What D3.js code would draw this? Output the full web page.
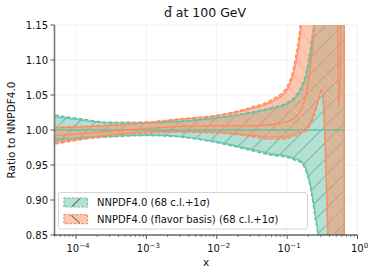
<!DOCTYPE html>
<html>
<head>
<meta charset="utf-8">
<script src="https://cdn.jsdelivr.net/npm/d3@7"></script>
<style>
  body { margin: 0; background: #fff; }
  svg { display: block; font-family: 'DejaVu Sans', sans-serif; }
</style>
</head>
<body>
<svg id="chart" width="374" height="276"></svg>
<script>
// x grid of the PDF ratios
const xValues = [5e-5, 1e-4, 3e-4, 1e-3, 3e-3, 1e-2, 3e-2, 0.06, 0.1, 0.13, 0.16, 0.19, 0.22,
  0.25, 0.28, 0.31, 0.34, 0.37, 0.4, 0.45, 0.5, 0.54, 0.57, 0.6, 0.65];

// NNPDF4.0 (reference, ratio 1)
const baseCentral = [1, 1, 1, 1, 1, 1, 1, 1, 1, 1, 1, 1, 1, 1, 1, 1, 1, 1, 1, 1, 1, 1, 1, 1, 1];
const baseClHi = [1.019, 1.015, 1.010, 1.010, 1.012, 1.017, 1.024, 1.030, 1.037, 1.045, 1.058, 1.080, 1.115,
  1.160, 1.240, 1.300, 1.450, 1.550, 1.650, 1.750, 1.850, 1.900, 1.950, 2.0, 2.0];
const baseClLo = [0.987, 0.989, 0.991, 0.993, 0.991, 0.983, 0.973, 0.966, 0.963, 0.959, 0.955, 0.942, 0.916,
  0.880, 0.845, 0.760, 0.710, 0.660, 0.610, 0.560, 0.510, 0.460, 0.420, 0.40, 0.40];
const baseSigHi = [1.021, 1.017, 1.011, 1.011, 1.013, 1.018, 1.025, 1.032, 1.039, 1.048, 1.062, 1.085, 1.125,
  1.170, 1.250, 1.350, 1.500, 1.600, 1.700, 1.800, 1.900, 2.0, 2.0, 2.0, 2.0];
const baseSigLo = [0.985, 0.987, 0.990, 0.992, 0.990, 0.982, 0.971, 0.964, 0.961, 0.957, 0.953, 0.938, 0.912,
  0.875, 0.840, 0.750, 0.700, 0.650, 0.600, 0.550, 0.500, 0.450, 0.400, 0.40, 0.40];

// NNPDF4.0 (flavor basis)
const flavCentral = [0.992, 0.994, 0.998, 1.002, 1.005, 1.006, 1.006, 1.008, 1.012, 1.018, 1.030, 1.055, 1.100,
  1.170, 1.300, 1.600, 2.0, 2.0, 2.0, 2.0, 1.400, 1.030, 1.080, 1.500, 2.0];
const flavClHi = [1.003, 1.004, 1.006, 1.010, 1.015, 1.020, 1.030, 1.040, 1.057, 1.090, 1.150, 1.250, 1.400,
  1.550, 1.750, 1.900, 2.0, 2.0, 2.0, 2.0, 2.0, 2.0, 2.0, 2.0, 2.0];
const flavClLo = [0.982, 0.987, 0.993, 0.997, 0.998, 0.997, 0.993, 0.990, 0.991, 0.995, 0.999, 1.004, 1.014,
  1.028, 1.045, 1.055, 1.000, 0.890, 0.770, 0.600, 0.500, 0.450, 0.400, 0.40, 0.40];
const flavSigHi = [1.004, 1.005, 1.007, 1.011, 1.016, 1.021, 1.032, 1.043, 1.062, 1.100, 1.170, 1.300, 1.450,
  1.600, 1.800, 2.0, 2.0, 2.0, 2.0, 2.0, 2.0, 2.0, 2.0, 2.0, 2.0];
const flavSigLo = [0.980, 0.985, 0.992, 0.996, 0.997, 0.996, 0.991, 0.987, 0.988, 0.992, 0.996, 1.000, 1.010,
  1.025, 1.042, 1.060, 1.010, 0.880, 0.780, 0.600, 0.500, 0.450, 0.400, 0.40, 0.40];

const legendLabels = ['NNPDF4.0 (68 c.l.+1σ)', 'NNPDF4.0 (flavor basis) (68 c.l.+1σ)'];
const yTicks = [0.85, 0.90, 0.95, 1.00, 1.05, 1.10, 1.15];
const xTickExponents = [-4, -3, -2, -1, 0];

const teal = '#66c2a5';
const orange = '#fc8d62';

const plot = { left: 54.5, right: 357.5, top: 25, bottom: 235 };
const svg = d3.select('#chart');

const x = d3.scaleLog().domain([4.95e-5, 1]).range([plot.left, plot.right]);
const y = d3.scaleLinear().domain([0.85, 1.15]).range([plot.bottom, plot.top]);

const makeRows = (central, clLo, clHi, sigLo, sigHi) => xValues.map((xv, i) => ({
  x: xv, c: central[i], clLo: clLo[i], clHi: clHi[i], sLo: sigLo[i], sHi: sigHi[i]
}));

const series = [
  { name: legendLabels[0], color: teal, hatch: 'hatchTeal', rows: makeRows(baseCentral, baseClLo, baseClHi, baseSigLo, baseSigHi) },
  { name: legendLabels[1], color: orange, hatch: 'hatchOrange', rows: makeRows(flavCentral, flavClLo, flavClHi, flavSigLo, flavSigHi) }
];

// --- defs: clip + hatches
const defs = svg.append('defs');
defs.append('clipPath').attr('id', 'clip')
  .append('rect')
  .attr('x', plot.left).attr('y', plot.top)
  .attr('width', plot.right - plot.left).attr('height', plot.bottom - plot.top);

const hatchTeal = defs.append('pattern')
  .attr('id', 'hatchTeal')
  .attr('patternUnits', 'userSpaceOnUse')
  .attr('width', 11.8).attr('height', 11.8)
  .attr('patternTransform', 'rotate(45)');
hatchTeal.append('line')
  .attr('x1', 0).attr('y1', 0).attr('x2', 0).attr('y2', 11.8)
  .attr('stroke', '#5b8f80').attr('stroke-width', 1.4);

const hatchOrange = defs.append('pattern')
  .attr('id', 'hatchOrange')
  .attr('patternUnits', 'userSpaceOnUse')
  .attr('width', 11.8).attr('height', 11.8)
  .attr('patternTransform', 'rotate(-45)');
hatchOrange.append('line')
  .attr('x1', 0).attr('y1', 0).attr('x2', 0).attr('y2', 11.8)
  .attr('stroke', '#f59470').attr('stroke-width', 2.4);
hatchOrange.append('line')
  .attr('x1', 0).attr('y1', 0).attr('x2', 0).attr('y2', 11.8)
  .attr('stroke', '#ffe3d6').attr('stroke-width', 0.8);

// --- grid
const grid = svg.append('g').attr('class', 'grid');
grid.selectAll('line.gx')
  .data(xTickExponents)
  .join('line')
  .attr('x1', (e) => x(Math.pow(10, e))).attr('x2', (e) => x(Math.pow(10, e)))
  .attr('y1', plot.top).attr('y2', plot.bottom)
  .attr('stroke', '#ededed').attr('stroke-width', 0.8);
grid.selectAll('line.gy')
  .data(yTicks)
  .join('line')
  .attr('x1', plot.left).attr('x2', plot.right)
  .attr('y1', (d) => y(d)).attr('y2', (d) => y(d))
  .attr('stroke', '#ededed').attr('stroke-width', 0.8);

// --- bands and lines
const plotArea = svg.append('g').attr('clip-path', 'url(#clip)');

const bandArea = d3.area()
  .x((d) => x(d.x))
  .y0((d) => y(d.sLo))
  .y1((d) => y(d.sHi))
  .curve(d3.curveMonotoneX);

const lineOf = (key) => d3.line()
  .x((d) => x(d.x))
  .y((d) => y(d[key]))
  .curve(d3.curveMonotoneX);

series.forEach((s) => {
  plotArea.append('path')
    .attr('d', bandArea(s.rows))
    .attr('fill', s.color).attr('fill-opacity', 0.5);
  plotArea.append('path')
    .attr('d', bandArea(s.rows))
    .attr('fill', `url(#${s.hatch})`).attr('opacity', 0.8);
});

series.forEach((s) => {
  ['clLo', 'clHi'].forEach((k) => {
    plotArea.append('path')
      .attr('d', lineOf(k)(s.rows))
      .attr('fill', 'none').attr('stroke', s.color).attr('stroke-width', 1.1);
  });
  // right edge of the band
  const last = s.rows[s.rows.length - 1];
  plotArea.append('line')
    .attr('x1', x(last.x)).attr('x2', x(last.x))
    .attr('y1', y(last.sLo)).attr('y2', y(last.sHi))
    .attr('stroke', s.color).attr('stroke-width', 1.2);
  ['sLo', 'sHi'].forEach((k) => {
    plotArea.append('path')
      .attr('d', lineOf(k)(s.rows))
      .attr('fill', 'none').attr('stroke', s.color)
      .attr('stroke-width', 1.5).attr('stroke-dasharray', '4,2');
  });
  plotArea.append('path')
    .attr('d', lineOf('c')(s.rows))
    .attr('fill', 'none').attr('stroke', s.color).attr('stroke-width', 1.5);
});

// --- axes
const axes = svg.append('g').attr('class', 'axes');
axes.append('line')
  .attr('x1', plot.left).attr('x2', plot.left)
  .attr('y1', plot.top).attr('y2', plot.bottom)
  .attr('stroke', '#7a7a7a').attr('stroke-width', 1.6);
axes.append('line')
  .attr('x1', plot.left - 0.8).attr('x2', plot.right)
  .attr('y1', plot.bottom).attr('y2', plot.bottom)
  .attr('stroke', '#222').attr('stroke-width', 1.2);

axes.selectAll('line.ytick')
  .data(yTicks)
  .join('line')
  .attr('x1', plot.left - 4).attr('x2', plot.left)
  .attr('y1', (d) => y(d)).attr('y2', (d) => y(d))
  .attr('stroke', '#444').attr('stroke-width', 0.9);
axes.selectAll('text.ytick')
  .data(yTicks)
  .join('text')
  .attr('x', plot.left - 6.5)
  .attr('y', (d) => y(d) + 3.6)
  .attr('text-anchor', 'end')
  .attr('font-size', 10)
  .attr('fill', '#111')
  .text((d) => d3.format('.2f')(d));

const minorTicks = [];
[-5, -4, -3, -2, -1].forEach((e) => {
  for (let k = 2; k <= 9; k++) {
    const v = k * Math.pow(10, e);
    if (v >= x.domain()[0] && v <= 1) minorTicks.push(v);
  }
});
axes.selectAll('line.xminor')
  .data(minorTicks)
  .join('line')
  .attr('x1', (d) => x(d)).attr('x2', (d) => x(d))
  .attr('y1', plot.bottom).attr('y2', plot.bottom + 2.2)
  .attr('stroke', '#444').attr('stroke-width', 0.6);
axes.selectAll('line.xmajor')
  .data(xTickExponents)
  .join('line')
  .attr('x1', (e) => x(Math.pow(10, e))).attr('x2', (e) => x(Math.pow(10, e)))
  .attr('y1', plot.bottom).attr('y2', plot.bottom + 4)
  .attr('stroke', '#444').attr('stroke-width', 0.9);

const xLabels = axes.selectAll('text.xtick')
  .data(xTickExponents)
  .join('text')
  .attr('x', (e) => x(Math.pow(10, e)) + 2)
  .attr('y', 252)
  .attr('text-anchor', 'middle')
  .attr('font-size', 10)
  .attr('fill', '#111');
xLabels.append('tspan').text('10');
xLabels.append('tspan')
  .attr('dy', -4.5).attr('font-size', 7)
  .text((e) => (e < 0 ? '\u2212' + Math.abs(e) : String(e)));

svg.append('text')
  .attr('x', (plot.left + plot.right) / 2).attr('y', 266)
  .attr('text-anchor', 'middle').attr('font-size', 10.5).attr('fill', '#111')
  .text('x');

svg.append('text')
  .attr('transform', `translate(15,${(plot.top + plot.bottom) / 2}) rotate(-90)`)
  .attr('text-anchor', 'middle').attr('font-size', 10.5).attr('fill', '#111')
  .text('Ratio to NNPDF4.0');

svg.append('text')
  .attr('x', 205).attr('y', 17)
  .attr('text-anchor', 'middle').attr('font-size', 12.5).attr('fill', '#111')
  .text('d\u0304 at 100 GeV');

// --- legend
const legend = svg.append('g').attr('class', 'legend');
legend.append('rect')
  .attr('x', 58.5).attr('y', 192.5).attr('width', 249).attr('height', 36.5)
  .attr('rx', 2.5)
  .attr('fill', '#fff').attr('fill-opacity', 0.85)
  .attr('stroke', '#d0d0d0').attr('stroke-width', 0.9);

const entries = legend.selectAll('g.entry')
  .data(series)
  .join('g')
  .attr('transform', (d, i) => `translate(0,${i * 16.6})`);
entries.append('rect')
  .attr('x', 64).attr('y', 198).attr('width', 23.5).attr('height', 9)
  .attr('fill', (d) => d.color).attr('fill-opacity', 0.5)
  .attr('stroke', (d) => d.color).attr('stroke-width', 1.2)
  .attr('stroke-dasharray', '2.5,1.5');
entries.append('line')
  .attr('x1', (d, i) => (i === 0 ? 72 : 71)).attr('x2', (d, i) => (i === 0 ? 80 : 80))
  .attr('y1', (d, i) => (i === 0 ? 206.5 : 198.5)).attr('y2', (d, i) => (i === 0 ? 198.5 : 206.5))
  .attr('stroke', '#777').attr('stroke-width', 1.1);
entries.append('text')
  .attr('x', 97).attr('y', 206.3)
  .attr('font-size', 10).attr('fill', '#111')
  .text((d) => d.name);
</script>
</body>
</html>
